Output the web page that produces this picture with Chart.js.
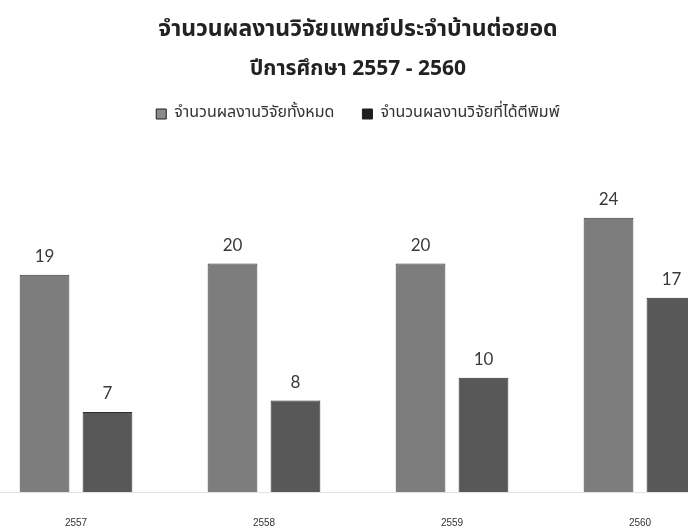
<!DOCTYPE html>
<html>
<head>
<meta charset="utf-8">
<script src="https://cdn.jsdelivr.net/npm/chart.js@4/dist/chart.umd.min.js"></script>
<style>
    html, body { margin: 0; padding: 0; background: #ffffff; overflow: hidden; }
    #wrap { position: relative; width: 688px; height: 529px; overflow: hidden; }
    #wrap canvas { position: absolute; left: -18px; top: 0; }
</style>
</head>
<body>
<div id="wrap">
    <canvas id="researchChart" width="752" height="554"></canvas>
</div>
<script>
// Dados do gráfico
const anos = ['2557', '2558', '2559', '2560'];
const totalPesquisas = [19, 20, 20, 24];
const publicadas = [7, 8, 10, 17];
const nomesSeries = ['จำนวนผลงานวิจัยทั้งหมด', 'จำนวนผลงานวิจัยที่ได้ตีพิมพ์'];
const coresSeries = ['#7d7d7d', '#585858'];
const coresLegenda = ['#8a8a8a', '#1e1e1e'];

const fonteThai = '"Noto Sans Thai", "Noto Sans", "DejaVu Sans", sans-serif';

// Plugin simples para escrever os valores em cima das barras
const valoresNasBarras = {
    id: 'valoresNasBarras',
    afterDatasetsDraw(chart) {
        const ctx = chart.ctx;
        ctx.save();
        ctx.font = '17px Lato, "Open Sans", sans-serif';
        ctx.fillStyle = '#3a3a3a';
        ctx.textAlign = 'center';
        ctx.textBaseline = 'middle';
        chart.data.datasets.forEach((ds, i) => {
            chart.getDatasetMeta(i).data.forEach((bar, j) => {
                ctx.fillText(String(ds.data[j]), bar.x, bar.y - 18);
            });
        });
        ctx.restore();
    }
};

const researchChart = new Chart(document.getElementById('researchChart'), {
    type: 'bar',
    data: {
        labels: anos,
        datasets: [{
            label: nomesSeries[0],
            data: totalPesquisas,
            backgroundColor: coresSeries[0],
            borderColor: '#3c3c3c',
            borderWidth: 1
        }, {
            label: nomesSeries[1],
            data: publicadas,
            backgroundColor: coresSeries[1],
            borderColor: '#2e2e2e',
            borderWidth: 1
        }]
    },
    options: {
        responsive: false,
        animation: false,
        categoryPercentage: 0.67,
        barPercentage: 0.79,
        layout: { padding: 0 },
        plugins: {
            title: {
                display: true,
                text: 'จำนวนผลงานวิจัยแพทย์ประจำบ้านต่อยอด',
                color: '#222222',
                font: { family: fonteThai, size: 23, weight: 'bold', lineHeight: 1 },
                padding: { top: 20, bottom: 0 }
            },
            subtitle: {
                display: true,
                text: 'ปีการศึกษา 2557 - 2560',
                color: '#222222',
                font: { family: fonteThai, size: 21, weight: 'bold', lineHeight: 1 },
                padding: { top: 17, bottom: -3 }
            },
            legend: {
                position: 'top',
                labels: {
                    boxWidth: 10,
                    boxHeight: 10,
                    padding: 28,
                    color: '#333333',
                    font: { family: fonteThai, size: 16 },
                    generateLabels(chart) {
                        const itens = Chart.defaults.plugins.legend.labels.generateLabels(chart);
                        itens.forEach((item, i) => {
                            item.fillStyle = coresLegenda[i];
                            item.strokeStyle = '#1e1e1e';
                            item.lineWidth = 1;
                        });
                        return itens;
                    }
                }
            },
            tooltip: { enabled: false }
        },
        scales: {
            x: {
                grid: { display: false, drawTicks: false },
                border: { display: true, color: '#e2e2e2', width: 1 },
                ticks: {
                    padding: 25,
                    color: '#333333',
                    font: { family: '"Liberation Sans", sans-serif', size: 10 }
                }
            },
            y: {
                display: false,
                min: 0,
                max: 31.5
            }
        }
    },
    plugins: [valoresNasBarras]
});
</script>
</body>
</html>
